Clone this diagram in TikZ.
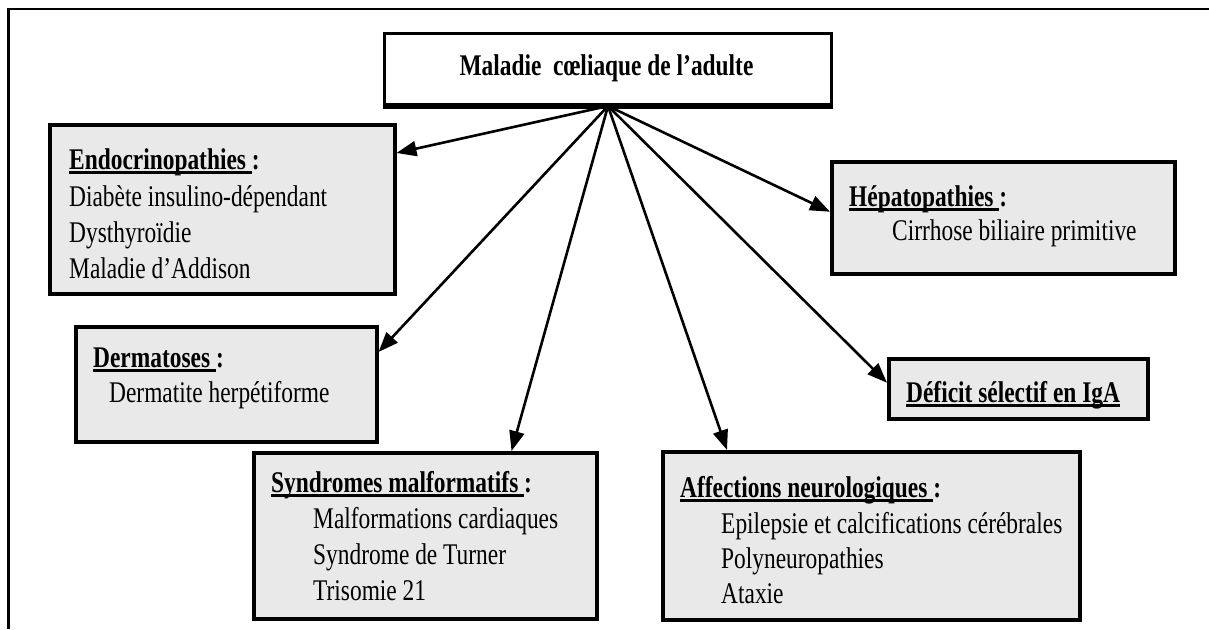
\documentclass[tikz,border=0pt]{standalone}
\usepackage{fontspec}
\setmainfont{Liberation Serif}[FakeStretch=0.78]
\usetikzlibrary{arrows.meta,calc}
\definecolor{boxgray}{RGB}{233,233,233}
\newcommand\myul[1]{\setbox0\hbox{#1}\rlap{\rule[-4.5pt]{\wd0}{2.4pt}}\box0}
\begin{document}
\begin{tikzpicture}[x=1pt,y=-1pt,
  box/.style={draw=black, line width=3.5pt, fill=boxgray, inner sep=0pt, anchor=north west},
  tbox/.style={draw=black, line width=3pt, fill=white, inner sep=0pt, anchor=north west},
  txt/.style={anchor=base west, inner sep=0pt, font=\fontsize{30}{36}\selectfont},
  arr/.style={line width=2.6pt, -{Triangle[length=20pt,width=15pt]}}]
\useasboundingbox (0,0) rectangle (1209,629);
% frame
\draw[line width=2.8pt] (1209,9) -- (8.5,9) -- (8.5,629);
% boxes
\node[tbox, minimum width=447pt, minimum height=71pt] (title) at (383,32) {};
\node[box, minimum width=345pt, minimum height=169pt] (endo) at (48,123) {};
\node[box, minimum width=301pt, minimum height=115pt] (derm) at (74,325) {};
\node[box, minimum width=343pt, minimum height=112pt] (hep) at (830,160) {};
\node[box, minimum width=259pt, minimum height=60pt] (def) at (887,357) {};
\node[box, minimum width=343pt, minimum height=166pt] (synd) at (252,451) {};
\node[box, minimum width=417pt, minimum height=168pt] (aff) at (661,450) {};
\draw[line width=5pt] (title.south west) -- (title.south east);
% texts
\node[txt, anchor=base] (tt) at (606.5,75) {\bfseries Maladie\ \ cœliaque de l’adulte};
\node[txt] (e0) at (69,169) {\bfseries\myul{Endocrinopathies }:};
\node[txt] (e1) at (69,206) {Diabète insulino-dépendant};
\node[txt] (e2) at (69,242) {Dysthyroïdie};
\node[txt] (e3) at (69,278) {Maladie d’Addison};
\node[txt] (d0) at (93,367) {\bfseries\myul{Dermatoses }:};
\node[txt] (d1) at (109,402) {Dermatite herpétiforme};
\node[txt] (h0) at (849,206) {\bfseries\myul{Hépatopathies }:};
\node[txt] (h1) at (892,240) {Cirrhose biliaire primitive};
\node[txt] (f0) at (906,402) {\bfseries\myul{Déficit sélectif en IgA}};
\node[txt] (s0) at (271,492) {\bfseries\myul{Syndromes malformatifs }:};
\node[txt] (s1) at (313,528) {Malformations cardiaques};
\node[txt] (s2) at (313,564) {Syndrome de Turner};
\node[txt] (s3) at (313,600) {Trisomie 21};
\node[txt] (a0) at (680,497) {\bfseries\myul{Affections neurologiques }:};
\node[txt] (a1) at (721,533) {Epilepsie et calcifications cérébrales};
\node[txt] (a2) at (721,568) {Polyneuropathies};
\node[txt] (a3) at (721,603) {Ataxie};
% arrows
\draw[arr] (title.south) -- ([yshift=-30pt]endo.north east);
\draw[arr] (title.south) -- ([yshift=-27pt]derm.north east);
\draw[arr] (title.south) -- ([xshift=-87pt]synd.north east);
\draw[arr] (title.south) -- ([xshift=66pt]aff.north west);
\draw[arr] (title.south) -- ([yshift=6pt]def.west);
\draw[arr] (title.south) -- ([yshift=6pt]hep.west);
\end{tikzpicture}
\end{document}
